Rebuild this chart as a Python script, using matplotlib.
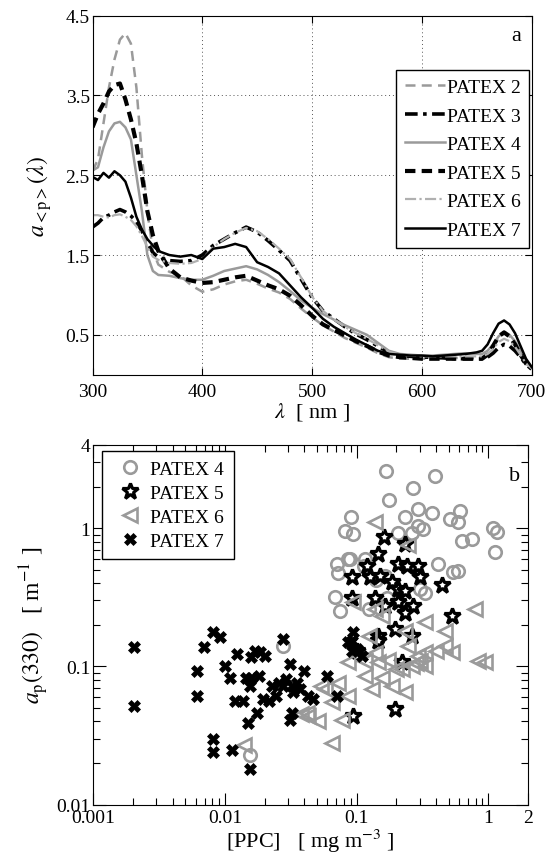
import numpy as np
import matplotlib
matplotlib.use("Agg")
import matplotlib.pyplot as plt
from matplotlib.ticker import FixedLocator, NullFormatter, LogLocator

plt.rcParams['font.family'] = ['Liberation Serif', 'DejaVu Serif']
plt.rcParams['mathtext.fontset'] = 'stix'

# ---------------- panel a: mean particulate absorption spectra ----------------
wavelength = [300, 305, 310, 315, 320, 325, 330, 335, 340, 345, 350, 355, 360,
              370, 380, 390, 400, 410, 420, 430, 440, 450, 460, 470, 480, 490,
              500, 510, 520, 530, 540, 550, 560, 570, 580, 590, 600, 610, 620,
              630, 640, 650, 655, 660, 665, 670, 675, 680, 685, 690, 695, 700]

patex2 = [2.55, 2.70, 3.15, 3.60, 3.95, 4.20, 4.28, 4.15, 3.60, 2.75, 2.05, 1.55, 1.38,
          1.29, 1.24, 1.12, 1.04, 1.07, 1.13, 1.17, 1.19, 1.14, 1.08, 1.03, 0.95, 0.83,
          0.72, 0.62, 0.54, 0.46, 0.40, 0.34, 0.27, 0.22, 0.20, 0.20, 0.20, 0.20, 0.21,
          0.21, 0.21, 0.21, 0.22, 0.26, 0.35, 0.46, 0.52, 0.48, 0.38, 0.25, 0.14, 0.08]
patex3 = [1.85, 1.90, 1.97, 2.00, 2.04, 2.07, 2.04, 1.99, 1.92, 1.80, 1.66, 1.53, 1.47,
          1.43, 1.42, 1.43, 1.50, 1.62, 1.70, 1.78, 1.85, 1.79, 1.68, 1.56, 1.43, 1.20,
          0.97, 0.80, 0.70, 0.60, 0.51, 0.44, 0.36, 0.28, 0.24, 0.23, 0.22, 0.22, 0.21,
          0.20, 0.20, 0.20, 0.20, 0.22, 0.27, 0.34, 0.38, 0.36, 0.30, 0.22, 0.13, 0.07]
patex4 = [2.56, 2.60, 2.85, 3.05, 3.15, 3.17, 3.10, 2.95, 2.50, 2.05, 1.50, 1.30, 1.25,
          1.24, 1.21, 1.19, 1.19, 1.24, 1.30, 1.33, 1.36, 1.32, 1.25, 1.16, 1.05, 0.93,
          0.84, 0.76, 0.69, 0.62, 0.56, 0.50, 0.40, 0.30, 0.26, 0.25, 0.24, 0.24, 0.25,
          0.26, 0.27, 0.26, 0.26, 0.30, 0.38, 0.48, 0.54, 0.50, 0.42, 0.30, 0.18, 0.10]
patex5 = [3.10, 3.27, 3.40, 3.55, 3.63, 3.65, 3.45, 3.20, 2.90, 2.50, 2.05, 1.75, 1.55,
          1.33, 1.22, 1.18, 1.15, 1.16, 1.19, 1.22, 1.24, 1.18, 1.12, 1.07, 0.99, 0.87,
          0.74, 0.63, 0.56, 0.49, 0.42, 0.36, 0.29, 0.24, 0.22, 0.21, 0.20, 0.20, 0.20,
          0.20, 0.20, 0.20, 0.20, 0.25, 0.36, 0.48, 0.53, 0.48, 0.38, 0.25, 0.14, 0.08]
patex6 = [2.00, 2.00, 1.98, 1.97, 2.00, 2.01, 1.98, 1.94, 1.86, 1.74, 1.60, 1.48, 1.44,
          1.40, 1.39, 1.40, 1.45, 1.60, 1.70, 1.78, 1.84, 1.80, 1.70, 1.58, 1.45, 1.22,
          0.98, 0.80, 0.69, 0.60, 0.52, 0.45, 0.37, 0.29, 0.25, 0.24, 0.23, 0.23, 0.23,
          0.23, 0.23, 0.23, 0.23, 0.26, 0.32, 0.41, 0.45, 0.42, 0.35, 0.25, 0.14, 0.08]
patex7 = [2.48, 2.44, 2.53, 2.47, 2.55, 2.50, 2.42, 2.22, 1.98, 1.82, 1.70, 1.62, 1.55,
          1.50, 1.48, 1.50, 1.45, 1.58, 1.60, 1.64, 1.60, 1.41, 1.35, 1.27, 1.12, 0.97,
          0.84, 0.70, 0.60, 0.52, 0.44, 0.37, 0.30, 0.26, 0.25, 0.24, 0.24, 0.23, 0.24,
          0.25, 0.26, 0.28, 0.30, 0.38, 0.52, 0.64, 0.68, 0.63, 0.52, 0.36, 0.20, 0.10]

spectra_labels = ['PATEX 2', 'PATEX 3', 'PATEX 4', 'PATEX 5', 'PATEX 6', 'PATEX 7']

# ---------------- panel b: a_p(330) versus PPC ----------------
p4_ppc = [0.166, 0.394, 0.269, 0.176, 0.0906, 0.0815, 0.094, 0.233, 0.294, 0.371,
          0.294, 0.32, 0.262, 0.207, 0.512, 0.61, 0.59, 0.63, 0.75, 1.09, 1.12,
          0.086, 0.0705, 0.072, 0.116, 0.068, 0.075, 0.303, 0.417, 0.54, 0.59,
          0.0275, 0.0154, 0.163, 0.169, 0.33, 1.16, 0.0885, 0.113, 0.14, 0.125]
p4_ap = [2.61, 2.40, 1.95, 1.61, 1.20, 0.96, 0.91, 1.21, 1.38, 1.29,
         1.04, 0.99, 0.93, 0.93, 1.16, 1.33, 1.10, 0.81, 0.83, 1.01, 0.67,
         0.60, 0.55, 0.47, 0.60, 0.32, 0.25, 0.36, 0.55, 0.48, 0.49,
         0.141, 0.023, 0.45, 0.31, 0.34, 0.94, 0.60, 0.536, 0.42, 0.26]

p5_ppc = [0.162, 0.233, 0.146, 0.119, 0.0916, 0.126, 0.150, 0.207, 0.24, 0.294,
          0.303, 0.185, 0.207, 0.233, 0.443, 0.0916, 0.138, 0.164, 0.207, 0.269,
          0.233, 0.527, 0.146, 0.195, 0.262, 0.10, 0.22, 0.094, 0.196, 0.144]
p5_ap = [0.86, 0.77, 0.65, 0.535, 0.44, 0.44, 0.45, 0.55, 0.536, 0.536,
         0.44, 0.41, 0.363, 0.35, 0.39, 0.31, 0.31, 0.275, 0.29, 0.275,
         0.245, 0.232, 0.166, 0.186, 0.166, 0.13, 0.107, 0.044, 0.049, 0.153]

p6_ppc = [0.138, 0.247, 0.094, 0.138, 0.155, 0.33, 0.469, 0.79, 0.233, 0.123,
          0.247, 0.469, 0.527, 0.84, 0.086, 0.116, 0.146, 0.174, 0.294, 0.33,
          0.33, 0.262, 0.22, 0.116, 0.155, 0.185, 0.0726, 0.0575, 0.086, 0.0646,
          0.043, 0.051, 0.077, 0.0646, 0.233, 0.13, 0.138, 0.014, 0.042, 0.038,
          0.054, 0.94, 0.20, 0.28, 0.30, 0.40]
p6_ap = [1.10, 0.75, 0.29, 0.26, 0.232, 0.208, 0.181, 0.26, 0.18, 0.166,
         0.141, 0.141, 0.126, 0.11, 0.107, 0.11, 0.107, 0.112, 0.119, 0.126,
         0.101, 0.10, 0.096, 0.085, 0.082, 0.072, 0.076, 0.068, 0.061, 0.055,
         0.044, 0.040, 0.041, 0.028, 0.065, 0.068, 0.125, 0.027, 0.046, 0.045,
         0.072, 0.107, 0.095, 0.105, 0.11, 0.13]

p7_ppc = [0.00203, 0.00203, 0.0061, 0.0061, 0.0069, 0.0081, 0.0091, 0.0081, 0.0081, 0.010,
          0.011, 0.0113, 0.0124, 0.012, 0.0136, 0.0149, 0.0154, 0.0158, 0.0169, 0.0185,
          0.0203, 0.0158, 0.018, 0.0154, 0.0174, 0.0196, 0.0216, 0.0229, 0.0275, 0.0275,
          0.0311, 0.032, 0.0331, 0.0352, 0.037, 0.0398, 0.0424, 0.0464, 0.0311, 0.032,
          0.0593, 0.0713, 0.094, 0.091, 0.10, 0.11, 0.0145, 0.0244, 0.0259, 0.0292,
          0.0916, 0.086, 0.092]
p7_ap = [0.137, 0.052, 0.092, 0.061, 0.138, 0.176, 0.162, 0.030, 0.024, 0.101,
         0.083, 0.025, 0.122, 0.056, 0.056, 0.039, 0.018, 0.116, 0.130, 0.126,
         0.119, 0.083, 0.085, 0.072, 0.046, 0.058, 0.056, 0.072, 0.157, 0.072,
         0.104, 0.072, 0.065, 0.076, 0.068, 0.093, 0.061, 0.058, 0.041, 0.046,
         0.085, 0.061, 0.176, 0.149, 0.133, 0.119, 0.083, 0.061, 0.076, 0.081,
         0.153, 0.150, 0.130]

scatter_labels = ['PATEX 4', 'PATEX 5', 'PATEX 6', 'PATEX 7']
x_ticks_b = [0.001, 0.01, 0.1, 1, 2]
x_ticklabels_b = ['0.001', '0.01', '0.1', '1', '2']
y_ticks_b = [0.01, 0.1, 1, 4]
y_ticklabels_b = ['0.01', '0.1', '1', '4']

GRAY = '#9a9a9a'
W, H = 549, 862
fig = plt.figure(figsize=(W / 100, H / 100), dpi=100)


def box(l, t, r, b):
    return [l / W, 1 - b / H, (r - l) / W, (b - t) / H]


# ---- panel a ----
ax1 = fig.add_axes(box(92.5, 16.7, 531.5, 375.7))
styles = [
    dict(color=GRAY, ls=(0, (4, 2.5)), lw=1.8),
    dict(color='black', ls=(0, (3.5, 1.5, 1, 1.5)), lw=2.6),
    dict(color=GRAY, ls='-', lw=1.8),
    dict(color='black', ls=(0, (2.5, 1.5)), lw=3.0),
    dict(color='#b0b0b0', ls=(0, (5, 1.5, 1, 1.5)), lw=1.6),
    dict(color='black', ls='-', lw=1.8),
]
for series, lab, st in zip([patex2, patex3, patex4, patex5, patex6, patex7],
                           spectra_labels, styles):
    ax1.plot(wavelength, series, label=lab, **st)

ax1.set_xlim(300, 700)
ax1.set_ylim(0, 4.5)
ax1.set_xticks([300, 400, 500, 600, 700])
ax1.set_yticks([0.5, 1.5, 2.5, 3.5, 4.5])
ax1.set_yticklabels(['0.5', '1.5', '2.5', '3.5', '4.5'])
ax1.grid(True, ls=(0, (1, 3)), color='#555555', lw=0.7)
ax1.tick_params(direction='in', top=True, right=True, length=5, labelsize=14, width=0.8)
ax1.tick_params(axis='x', pad=6)
ax1.tick_params(axis='y', pad=2)
ax1.set_xlabel(r'$\lambda$  [ nm ]', fontsize=16, labelpad=0)
ax1.set_ylabel(r'$a_{\mathrm{<p>}}(\lambda)$', fontsize=17, labelpad=8)
ax1.text(0.966, 0.945, 'a', transform=ax1.transAxes, fontsize=16, ha='center', va='center')
leg1 = ax1.legend(loc='upper right', bbox_to_anchor=(0.995, 0.849), fontsize=14,
                  frameon=True, fancybox=False, edgecolor='black', framealpha=1,
                  handlelength=2.05, handletextpad=0.1, borderpad=0.45,
                  labelspacing=0.56, borderaxespad=0)
leg1.get_frame().set_linewidth(1.0)

# ---- panel b ----
ax2 = fig.add_axes(box(93.3, 446, 528, 805.5))
ax2.plot(p4_ppc, p4_ap, ls='none', marker='o', ms=9, mfc='none', mec=GRAY, mew=1.9,
         label=scatter_labels[0])
ax2.plot(p5_ppc, p5_ap, ls='none', marker='*', ms=12, mfc='white', mec='black', mew=2.3,
         label=scatter_labels[1])
ax2.plot(p6_ppc, p6_ap, ls='none', marker='<', ms=9.5, mfc='none', mec=GRAY, mew=1.9,
         label=scatter_labels[2])
ax2.plot(p7_ppc, p7_ap, ls='none', marker='X', ms=9, mfc='black', mec='black', mew=0.5,
         label=scatter_labels[3])
ax2.set_xscale('log')
ax2.set_yscale('log')
ax2.set_xlim(0.001, 2)
ax2.set_ylim(0.01, 4)
ax2.xaxis.set_major_locator(FixedLocator(x_ticks_b))
ax2.set_xticklabels(x_ticklabels_b)
ax2.xaxis.set_minor_locator(LogLocator(base=10, subs=np.arange(2, 10)))
ax2.xaxis.set_minor_formatter(NullFormatter())
ax2.yaxis.set_major_locator(FixedLocator(y_ticks_b))
ax2.set_yticklabels(y_ticklabels_b)
ax2.yaxis.set_minor_locator(LogLocator(base=10, subs=np.arange(2, 10)))
ax2.yaxis.set_minor_formatter(NullFormatter())
ax2.tick_params(which='both', direction='in', top=True, right=True, labelsize=14, width=0.8)
ax2.tick_params(which='major', length=9)
ax2.tick_params(which='minor', length=5)
ax2.tick_params(axis='x', pad=3)
ax2.tick_params(axis='y', pad=2)
ax2.set_xlabel(r'[PPC]   [ mg m$^{-3}$ ]', fontsize=16, labelpad=1)
ax2.set_ylabel(r'$a_{\mathrm{p}}(330)$   [ m$^{-1}$ ]', fontsize=17, labelpad=4)
ax2.text(0.968, 0.915, 'b', transform=ax2.transAxes, fontsize=16, ha='center', va='center')
leg2 = ax2.legend(loc='upper left', bbox_to_anchor=(0.019, 0.984), fontsize=14,
                  frameon=True, fancybox=False, edgecolor='black', framealpha=1,
                  handlelength=1.9, handletextpad=0.1, borderpad=0.5,
                  labelspacing=0.32, borderaxespad=0, numpoints=1)
leg2.get_frame().set_linewidth(1.0)

fig.savefig('out.png', dpi=100)
